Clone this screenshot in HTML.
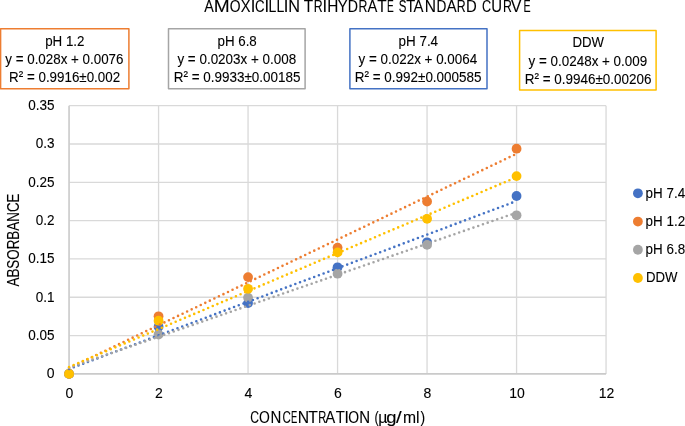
<!DOCTYPE html>
<html><head><meta charset="utf-8"><style>
html,body{margin:0;padding:0;background:#fff;}
body{width:685px;height:426px;overflow:hidden;}
svg{display:block;will-change:transform;}
text{font-family:"Liberation Sans", sans-serif;fill:#000;stroke:#000;stroke-width:0.1px;}
</style></head><body>
<svg width="685" height="426" viewBox="0 0 685 426">
<rect width="685" height="426" fill="#fff"/>
<g stroke="#D9D9D9" stroke-width="1.3" fill="none">
<line x1="69.06" x2="606.06" y1="335.58" y2="335.58"/>
<line x1="69.06" x2="606.06" y1="297.27" y2="297.27"/>
<line x1="69.06" x2="606.06" y1="258.95" y2="258.95"/>
<line x1="69.06" x2="606.06" y1="220.64" y2="220.64"/>
<line x1="69.06" x2="606.06" y1="182.32" y2="182.32"/>
<line x1="69.06" x2="606.06" y1="144.01" y2="144.01"/>
<line x1="69.06" x2="606.06" y1="105.69" y2="105.69"/>
<line x1="158.56" x2="158.56" y1="105.69" y2="373.9"/>
<line x1="248.06" x2="248.06" y1="105.69" y2="373.9"/>
<line x1="337.56" x2="337.56" y1="105.69" y2="373.9"/>
<line x1="427.06" x2="427.06" y1="105.69" y2="373.9"/>
<line x1="516.56" x2="516.56" y1="105.69" y2="373.9"/>
<line x1="606.06" x2="606.06" y1="105.69" y2="373.9"/>
</g>
<line x1="69.06" x2="69.06" y1="105.69" y2="373.9" stroke="#CDCDCD" stroke-width="1.7"/>
<line x1="68.21000000000001" x2="606.06" y1="373.9" y2="373.9" stroke="#CACACA" stroke-width="1.8"/>
<rect x="0.6" y="28.8" width="128.30" height="60.00" fill="#fff" stroke="#ED7D31" stroke-width="1.5" stroke-linejoin="round"/>
<rect x="168.5" y="28.8" width="136.60" height="60.00" fill="#fff" stroke="#A5A5A5" stroke-width="1.5" stroke-linejoin="round"/>
<rect x="349.9" y="28.8" width="137.10" height="60.00" fill="#fff" stroke="#4472C4" stroke-width="1.5" stroke-linejoin="round"/>
<rect x="519.6" y="30.45" width="136.50" height="59.55" fill="#fff" stroke="#FFC000" stroke-width="1.5" stroke-linejoin="round"/>
<g>
<circle cx="69.06" cy="373.9" r="4.9" fill="#4472C4"/>
<circle cx="158.56" cy="326.7" r="4.9" fill="#4472C4"/>
<circle cx="248.06" cy="303.1" r="4.9" fill="#4472C4"/>
<circle cx="337.56" cy="267.3" r="4.9" fill="#4472C4"/>
<circle cx="427.06" cy="242.3" r="4.9" fill="#4472C4"/>
<circle cx="516.56" cy="196.0" r="4.9" fill="#4472C4"/>
<circle cx="69.06" cy="373.9" r="4.9" fill="#ED7D31"/>
<circle cx="158.56" cy="316.3" r="4.9" fill="#ED7D31"/>
<circle cx="248.06" cy="277.1" r="4.9" fill="#ED7D31"/>
<circle cx="337.56" cy="247.6" r="4.9" fill="#ED7D31"/>
<circle cx="427.06" cy="201.5" r="4.9" fill="#ED7D31"/>
<circle cx="516.56" cy="148.7" r="4.9" fill="#ED7D31"/>
<circle cx="69.06" cy="373.9" r="4.9" fill="#A5A5A5"/>
<circle cx="158.56" cy="334.5" r="4.9" fill="#A5A5A5"/>
<circle cx="248.06" cy="297.6" r="4.9" fill="#A5A5A5"/>
<circle cx="337.56" cy="273.7" r="4.9" fill="#A5A5A5"/>
<circle cx="427.06" cy="244.9" r="4.9" fill="#A5A5A5"/>
<circle cx="516.56" cy="215.3" r="4.9" fill="#A5A5A5"/>
<circle cx="69.06" cy="373.9" r="4.9" fill="#FFC000"/>
<circle cx="158.56" cy="320.7" r="4.9" fill="#FFC000"/>
<circle cx="248.06" cy="288.8" r="4.9" fill="#FFC000"/>
<circle cx="337.56" cy="252.4" r="4.9" fill="#FFC000"/>
<circle cx="427.06" cy="218.8" r="4.9" fill="#FFC000"/>
<circle cx="516.56" cy="176.1" r="4.9" fill="#FFC000"/>
</g>
<g stroke-width="2.6" stroke-linecap="round" stroke-dasharray="0 5.035" fill="none">
<line x1="69.06" y1="369.00" x2="516.56" y2="201.02" stroke="#4472C4"/>
<line x1="69.06" y1="368.08" x2="516.56" y2="153.74" stroke="#ED7D31"/>
<line x1="69.06" y1="367.77" x2="516.56" y2="212.67" stroke="#A5A5A5"/>
<line x1="69.06" y1="367.00" x2="516.56" y2="177.19" stroke="#FFC000"/>
</g>
<circle cx="637.9" cy="193.30" r="4.9" fill="#4472C4"/>
<circle cx="637.9" cy="221.53" r="4.9" fill="#ED7D31"/>
<circle cx="637.9" cy="249.76" r="4.9" fill="#A5A5A5"/>
<circle cx="637.9" cy="277.99" r="4.9" fill="#FFC000"/>
<text x="203.61" y="11.65" font-size="16.6" transform="translate(209.15 0) scale(0.863 1) translate(-209.15 0)">A</text>
<text x="214.79" y="11.65" font-size="16.6" transform="translate(221.70 0) scale(1.153 1) translate(-221.70 0)">M</text>
<text x="228.60" y="11.65" font-size="16.6" transform="translate(235.05 0) scale(0.838 1) translate(-235.05 0)">O</text>
<text x="240.10" y="11.65" font-size="16.6" transform="translate(245.65 0) scale(0.880 1) translate(-245.65 0)">X</text>
<text x="250.64" y="11.65" font-size="16.6">I</text>
<text x="253.80" y="11.65" font-size="16.6" transform="translate(259.90 0) scale(0.799 1) translate(-259.90 0)">C</text>
<text x="264.49" y="11.65" font-size="16.6">I</text>
<text x="267.68" y="11.65" font-size="16.6" transform="translate(272.70 0) scale(0.847 1) translate(-272.70 0)">L</text>
<text x="275.68" y="11.65" font-size="16.6" transform="translate(280.70 0) scale(0.847 1) translate(-280.70 0)">L</text>
<text x="283.79" y="11.65" font-size="16.6">I</text>
<text x="288.05" y="11.65" font-size="16.6" transform="translate(294.05 0) scale(0.981 1) translate(-294.05 0)">N</text>
<text x="303.39" y="11.65" font-size="16.6" transform="translate(308.45 0) scale(0.926 1) translate(-308.45 0)">T</text>
<text x="312.07" y="11.65" font-size="16.6" transform="translate(318.35 0) scale(0.742 1) translate(-318.35 0)">R</text>
<text x="322.39" y="11.65" font-size="16.6">I</text>
<text x="326.70" y="11.65" font-size="16.6" transform="translate(332.70 0) scale(0.927 1) translate(-332.70 0)">H</text>
<text x="337.06" y="11.65" font-size="16.6" transform="translate(342.60 0) scale(0.890 1) translate(-342.60 0)">Y</text>
<text x="346.93" y="11.65" font-size="16.6" transform="translate(353.20 0) scale(0.855 1) translate(-353.20 0)">D</text>
<text x="356.97" y="11.65" font-size="16.6" transform="translate(363.25 0) scale(0.742 1) translate(-363.25 0)">R</text>
<text x="366.86" y="11.65" font-size="16.6" transform="translate(372.40 0) scale(0.890 1) translate(-372.40 0)">A</text>
<text x="376.99" y="11.65" font-size="16.6" transform="translate(382.05 0) scale(0.926 1) translate(-382.05 0)">T</text>
<text x="384.79" y="11.65" font-size="16.6" transform="translate(390.65 0) scale(0.611 1) translate(-390.65 0)">E</text>
<text x="396.96" y="11.65" font-size="16.6" transform="translate(402.50 0) scale(0.691 1) translate(-402.50 0)">S</text>
<text x="405.59" y="11.65" font-size="16.6" transform="translate(410.65 0) scale(0.883 1) translate(-410.65 0)">T</text>
<text x="413.01" y="11.65" font-size="16.6" transform="translate(418.55 0) scale(0.900 1) translate(-418.55 0)">A</text>
<text x="424.45" y="11.65" font-size="16.6" transform="translate(430.45 0) scale(0.938 1) translate(-430.45 0)">N</text>
<text x="435.48" y="11.65" font-size="16.6" transform="translate(441.75 0) scale(0.824 1) translate(-441.75 0)">D</text>
<text x="446.01" y="11.65" font-size="16.6" transform="translate(451.55 0) scale(0.918 1) translate(-451.55 0)">A</text>
<text x="455.17" y="11.65" font-size="16.6" transform="translate(461.45 0) scale(0.742 1) translate(-461.45 0)">R</text>
<text x="465.43" y="11.65" font-size="16.6" transform="translate(471.70 0) scale(0.895 1) translate(-471.70 0)">D</text>
<text x="480.60" y="11.65" font-size="16.6" transform="translate(486.70 0) scale(0.761 1) translate(-486.70 0)">C</text>
<text x="490.76" y="11.65" font-size="16.6" transform="translate(496.75 0) scale(0.901 1) translate(-496.75 0)">U</text>
<text x="501.27" y="11.65" font-size="16.6" transform="translate(507.55 0) scale(0.742 1) translate(-507.55 0)">R</text>
<text x="510.76" y="11.65" font-size="16.6" transform="translate(516.30 0) scale(0.935 1) translate(-516.30 0)">V</text>
<text x="521.34" y="11.65" font-size="16.6" transform="translate(527.20 0) scale(0.645 1) translate(-527.20 0)">E</text>
<text x="54.50" y="378.30" font-size="14.0" text-anchor="end">0</text>
<text x="54.50" y="339.98" font-size="14.0" text-anchor="end" textLength="26.3" lengthAdjust="spacingAndGlyphs">0.05</text>
<text x="54.50" y="301.67" font-size="14.0" text-anchor="end" textLength="18.78" lengthAdjust="spacingAndGlyphs">0.1</text>
<text x="54.50" y="263.35" font-size="14.0" text-anchor="end" textLength="26.3" lengthAdjust="spacingAndGlyphs">0.15</text>
<text x="54.50" y="225.04" font-size="14.0" text-anchor="end" textLength="18.78" lengthAdjust="spacingAndGlyphs">0.2</text>
<text x="54.50" y="186.72" font-size="14.0" text-anchor="end" textLength="26.3" lengthAdjust="spacingAndGlyphs">0.25</text>
<text x="54.50" y="148.41" font-size="14.0" text-anchor="end" textLength="18.78" lengthAdjust="spacingAndGlyphs">0.3</text>
<text x="54.50" y="110.09" font-size="14.0" text-anchor="end" textLength="26.3" lengthAdjust="spacingAndGlyphs">0.35</text>
<text x="69.46" y="397.90" font-size="14.0" text-anchor="middle">0</text>
<text x="158.96" y="397.90" font-size="14.0" text-anchor="middle">2</text>
<text x="248.46" y="397.90" font-size="14.0" text-anchor="middle">4</text>
<text x="337.96" y="397.90" font-size="14.0" text-anchor="middle">6</text>
<text x="427.46" y="397.90" font-size="14.0" text-anchor="middle">8</text>
<text x="516.96" y="397.90" font-size="14.0" text-anchor="middle">10</text>
<text x="606.46" y="397.90" font-size="14.0" text-anchor="middle">12</text>
<text x="248.98" y="422.7" font-size="15.7" transform="translate(254.75 0) scale(0.775 1) translate(-254.75 0)">C</text>
<text x="258.35" y="422.7" font-size="15.7" transform="translate(264.45 0) scale(0.886 1) translate(-264.45 0)">O</text>
<text x="270.22" y="422.7" font-size="15.7" transform="translate(275.90 0) scale(0.957 1) translate(-275.90 0)">N</text>
<text x="280.88" y="422.7" font-size="15.7" transform="translate(286.65 0) scale(0.735 1) translate(-286.65 0)">C</text>
<text x="288.81" y="422.7" font-size="15.7" transform="translate(294.35 0) scale(0.600 1) translate(-294.35 0)">E</text>
<text x="297.82" y="422.7" font-size="15.7">N</text>
<text x="308.21" y="422.7" font-size="15.7">T</text>
<text x="316.56" y="422.7" font-size="15.7" transform="translate(322.50 0) scale(0.709 1) translate(-322.50 0)">R</text>
<text x="325.11" y="422.7" font-size="15.7" transform="translate(330.35 0) scale(0.951 1) translate(-330.35 0)">A</text>
<text x="335.61" y="422.7" font-size="15.7" transform="translate(340.40 0) scale(0.945 1) translate(-340.40 0)">T</text>
<text x="344.42" y="422.7" font-size="15.7">I</text>
<text x="347.65" y="422.7" font-size="15.7" transform="translate(353.75 0) scale(0.886 1) translate(-353.75 0)">O</text>
<text x="359.12" y="422.7" font-size="15.7" transform="translate(364.80 0) scale(0.957 1) translate(-364.80 0)">N</text>
<text x="373.80" y="422.7" font-size="15.7" transform="translate(376.85 0) scale(0.793 1) translate(-376.85 0)">(</text>
<text x="378.28" y="422.7" font-size="15.7" transform="translate(383.15 0) scale(1.011 1) translate(-383.15 0)">µ</text>
<text x="386.96" y="422.7" font-size="15.7" transform="translate(391.15 0) scale(1.175 1) translate(-391.15 0)">g</text>
<text x="396.77" y="422.7" font-size="15.7" transform="translate(398.95 0) scale(1.300 1) translate(-398.95 0)">/</text>
<text x="403.06" y="422.7" font-size="15.7">m</text>
<text x="416.06" y="422.7" font-size="15.7">l</text>
<text x="420.18" y="422.7" font-size="15.7" transform="translate(422.35 0) scale(0.889 1) translate(-422.35 0)">)</text>
<text transform="translate(19.0 240) rotate(-90)" x="0" y="0" font-size="15.7" text-anchor="middle" textLength="93" lengthAdjust="spacingAndGlyphs">ABSORBANCE</text>
<text x="45.21" y="45.65" font-size="14.0" text-anchor="start" textLength="39.28" lengthAdjust="spacingAndGlyphs">pH 1.2</text>
<text x="5.31" y="63.90" font-size="14.0" text-anchor="start" textLength="118.18" lengthAdjust="spacingAndGlyphs">y = 0.028x + 0.0076</text>
<text x="9.11" y="82.20" font-size="14.0" text-anchor="start" textLength="110.98" lengthAdjust="spacingAndGlyphs">R<tspan dy="-1.1">²</tspan><tspan dy="1.1"> = 0.9916±0.002</tspan></text>
<text x="217.51" y="45.65" font-size="14.0" text-anchor="start" textLength="39.28" lengthAdjust="spacingAndGlyphs">pH 6.8</text>
<text x="177.41" y="63.90" font-size="14.0" text-anchor="start" textLength="118.78" lengthAdjust="spacingAndGlyphs">y = 0.0203x + 0.008</text>
<text x="173.81" y="82.20" font-size="14.0" text-anchor="start" textLength="126.68" lengthAdjust="spacingAndGlyphs">R<tspan dy="-1.1">²</tspan><tspan dy="1.1"> = 0.9933±0.00185</tspan></text>
<text x="398.51" y="45.65" font-size="14.0" text-anchor="start" textLength="39.58" lengthAdjust="spacingAndGlyphs">pH 7.4</text>
<text x="358.61" y="63.90" font-size="14.0" text-anchor="start" textLength="118.58" lengthAdjust="spacingAndGlyphs">y = 0.022x + 0.0064</text>
<text x="354.81" y="82.20" font-size="14.0" text-anchor="start" textLength="126.68" lengthAdjust="spacingAndGlyphs">R<tspan dy="-1.1">²</tspan><tspan dy="1.1"> = 0.992±0.000585</tspan></text>
<text x="572.41" y="47.35" font-size="14.0" text-anchor="start" textLength="31.58" lengthAdjust="spacingAndGlyphs">DDW</text>
<text x="528.61" y="65.60" font-size="14.0" text-anchor="start" textLength="118.58" lengthAdjust="spacingAndGlyphs">y = 0.0248x + 0.009</text>
<text x="524.81" y="83.90" font-size="14.0" text-anchor="start" textLength="126.68" lengthAdjust="spacingAndGlyphs">R<tspan dy="-1.1">²</tspan><tspan dy="1.1"> = 0.9946±0.00206</tspan></text>
<text x="645.61" y="197.60" font-size="14.0" text-anchor="start" textLength="39.48" lengthAdjust="spacingAndGlyphs">pH 7.4</text>
<text x="645.61" y="225.83" font-size="14.0" text-anchor="start" textLength="39.48" lengthAdjust="spacingAndGlyphs">pH 1.2</text>
<text x="645.61" y="254.06" font-size="14.0" text-anchor="start" textLength="39.48" lengthAdjust="spacingAndGlyphs">pH 6.8</text>
<text x="646.01" y="282.19" font-size="14.0" text-anchor="start" textLength="31.48" lengthAdjust="spacingAndGlyphs">DDW</text>
</svg>
</body></html>
